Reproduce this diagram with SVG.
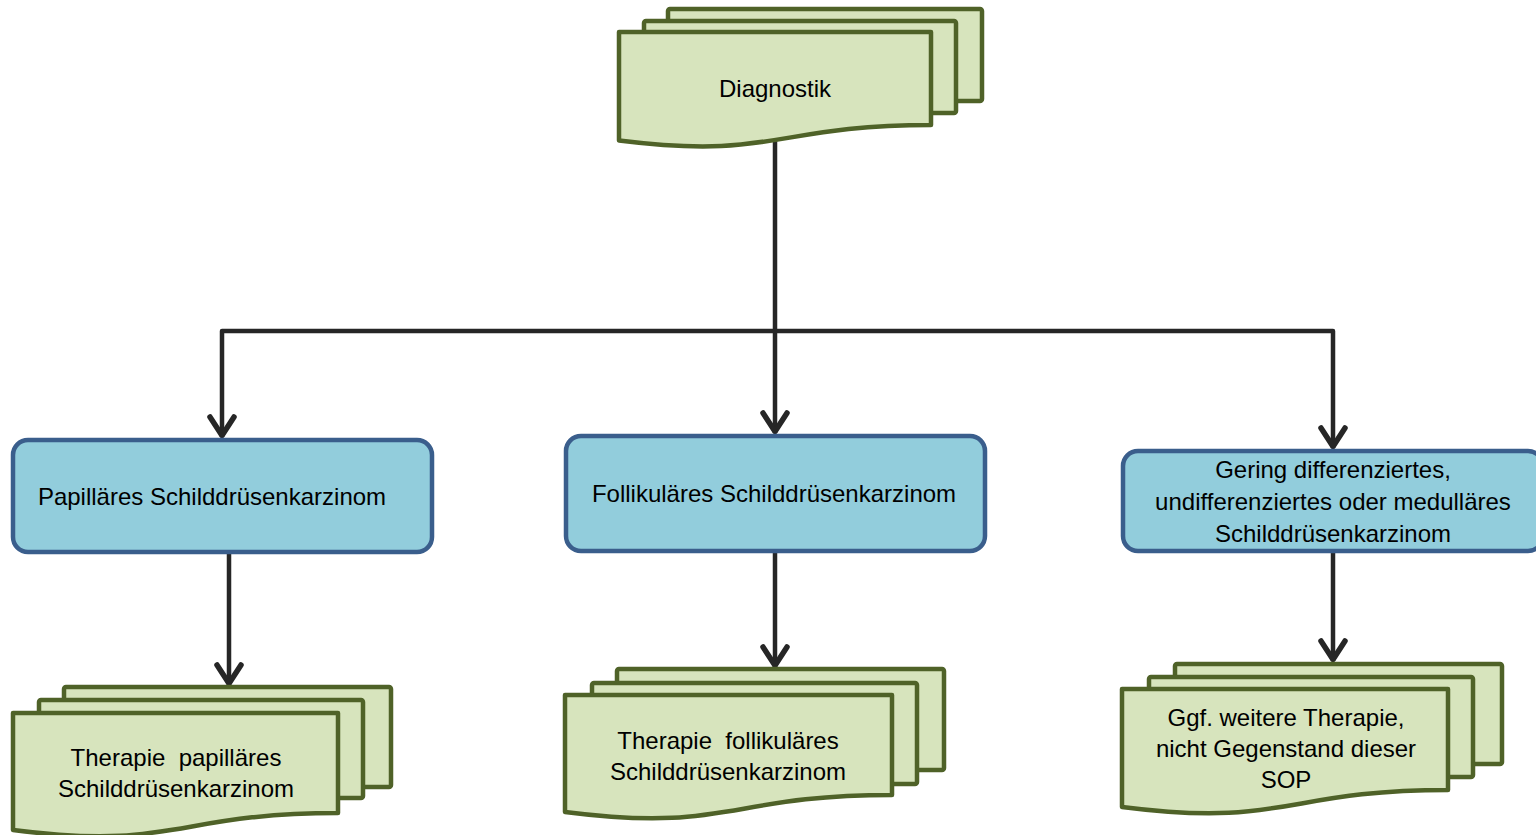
<svg xmlns="http://www.w3.org/2000/svg" width="1536" height="835" viewBox="0 0 1536 835">
<style>
.doc{fill:#d7e4bd;stroke:#4f6228;stroke-width:4.5;stroke-linejoin:round}
.box{fill:#92cddc;stroke:#3a5e8c;stroke-width:4.5}
.con{fill:none;stroke:#262626;stroke-width:4.5;stroke-linejoin:round;stroke-linecap:butt}
.t{font-family:"Liberation Sans",Arial,sans-serif;font-size:24px;fill:#000;text-anchor:middle;white-space:pre}
</style>
<defs>
<marker id="arr" viewBox="-26 -16 30 32" markerWidth="30" markerHeight="32" refX="0" refY="0" markerUnits="userSpaceOnUse" orient="auto">
<path d="M-20,-12 L-1.5,0 L-20,12" fill="none" stroke="#262626" stroke-width="5.5" stroke-linejoin="round" stroke-linecap="round"/>
</marker>
</defs>
<rect width="1536" height="835" fill="#fff"/>
<g id="connectors">
<path class="con" d="M775,140 V433" marker-end="url(#arr)"/>
<path class="con" d="M775,331 H222 V437" marker-end="url(#arr)"/>
<path class="con" d="M775,331 H1333 V448" marker-end="url(#arr)"/>
<path class="con" d="M229,552 V685" marker-end="url(#arr)"/>
<path class="con" d="M775,551 V667" marker-end="url(#arr)"/>
<path class="con" d="M1333,551 V661" marker-end="url(#arr)"/>
</g>
<g id="diagnostik">
<rect class="doc" x="668" y="9" width="314" height="92" rx="2"/>
<rect class="doc" x="644" y="21" width="312" height="92" rx="2"/>
<path class="doc" d="M619,32 H931 V125 C775,125 775,160 619,140.5 Z"/>
<text class="t" x="775" y="97">Diagnostik</text>
</g>
<g id="papillaer">
<rect class="box" x="13" y="440" width="419" height="112" rx="15"/>
<text class="t" x="212" y="505">Papilläres Schilddrüsenkarzinom</text>
</g>
<g id="follikulaer">
<rect class="box" x="566" y="436" width="419" height="115" rx="15"/>
<text class="t" x="774" y="502">Follikuläres Schilddrüsenkarzinom</text>
</g>
<g id="gering">
<rect class="box" x="1123" y="451" width="420" height="100" rx="15"/>
<text class="t" x="1333" y="478">Gering differenziertes,</text>
<text class="t" x="1333" y="510">undifferenziertes oder medulläres</text>
<text class="t" x="1333" y="542">Schilddrüsenkarzinom</text>
</g>
<g id="therapie-papillaer">
<rect class="doc" x="64" y="687" width="327" height="100" rx="2"/>
<rect class="doc" x="39" y="700" width="324" height="98" rx="2"/>
<path class="doc" d="M13,713 H338 V813 C175.5,813 175.5,851 13,830 Z"/>
<text class="t" x="176" y="766" xml:space="preserve">Therapie  papilläres</text>
<text class="t" x="176" y="797">Schilddrüsenkarzinom</text>
</g>
<g id="therapie-follikulaer">
<rect class="doc" x="617" y="669" width="327" height="101" rx="2"/>
<rect class="doc" x="592" y="683" width="325" height="101" rx="2"/>
<path class="doc" d="M565,695 H892 V795 C728.5,795 728.5,833 565,812 Z"/>
<text class="t" x="728" y="749" xml:space="preserve">Therapie  follikuläres</text>
<text class="t" x="728" y="780">Schilddrüsenkarzinom</text>
</g>
<g id="weitere-therapie">
<rect class="doc" x="1175" y="664" width="327" height="100" rx="2"/>
<rect class="doc" x="1149" y="677" width="324" height="100" rx="2"/>
<path class="doc" d="M1122,689 H1448 V790 C1285,790 1285,828 1122,807 Z"/>
<text class="t" x="1286" y="726">Ggf. weitere Therapie,</text>
<text class="t" x="1286" y="757">nicht Gegenstand dieser</text>
<text class="t" x="1286" y="788">SOP</text>
</g>
</svg>
